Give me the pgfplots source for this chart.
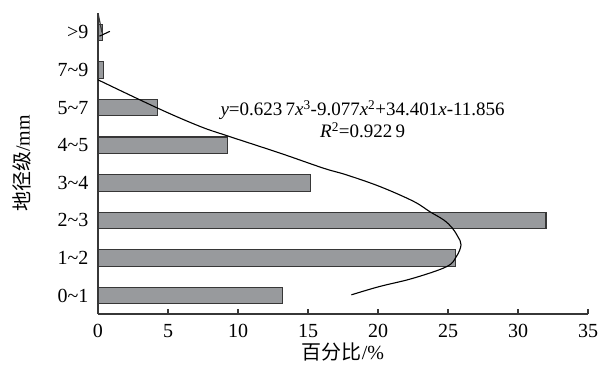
\documentclass[border=0pt]{standalone}
\usepackage{pgfplots}
\pgfplotsset{compat=1.18}
\usepackage{fontspec}
\setmainfont{Liberation Serif}
\newfontfamily\cjk{Noto Sans CJK SC}
\definecolor{barfill}{RGB}{152,154,157}
\definecolor{bardraw}{RGB}{55,55,55}
\begin{document}
\begin{tikzpicture}
\begin{axis}[
  scale only axis, width=490pt, height=300.7pt,
  xmin=0, xmax=35, ymin=0.51, ymax=8.51,
  axis lines=left, axis line style={-, draw=bardraw, line width=1.2pt},
  xtick={0,5,...,35}, xtick align=inside, major tick length=5pt,
  ytick={1,...,8},
  yticklabels={0\textasciitilde1,1\textasciitilde2,2\textasciitilde3,3\textasciitilde4,4\textasciitilde5,5\textasciitilde7,7\textasciitilde9,>9},
  ytick style={draw=none},
  xtick style={draw=bardraw, line width=1.2pt},
  ticklabel style={font=\fontsize{20}{24}\selectfont},
  xticklabel style={yshift=-7pt},
  yticklabel style={xshift=-3.5pt},
  /pgf/number format/assume math mode=true,
  xlabel={{\cjk 百分比}/\%},
  ylabel={{\cjk 地径级}/mm},
  every axis x label/.style={at={(rel axis cs:0.5,0)}, anchor=center, yshift=-38pt},
  every axis y label/.style={at={(rel axis cs:0,0.5)}, rotate=90, anchor=center, yshift=76pt},
  label style={font=\fontsize{20}{24}\selectfont},
  clip=false,
]
\addplot[xbar, bar width=16.5pt, fill=barfill, draw=bardraw, line width=1.1pt] coordinates {
  (13.2,1) (25.55,2) (32.0,3) (15.2,4) (9.24,5) (4.26,6) (0.38,7) (0.33,8)
};
\addplot[black, line width=1.1pt, smooth, tension=0.6] coordinates {
  (18.1,1.02) (20.1,1.24) (22.5,1.46) (24.9,1.77) (25.6,2.04) (25.93,2.35) (25.7,2.57) (25.3,2.80) (24.7,3.01) (23.71,3.23) (22.52,3.51) (20.14,3.90) (17.76,4.21) (16.1,4.39) (13.0,4.79) (9.24,5.25) (7.29,5.5) (4.3,5.98) (0,6.74)
};
\addplot[black, line width=1.1pt] coordinates {(0.1,7.9) (0.85,8.03)};
\draw[bardraw, line width=1.2pt] (axis cs:0,8.51) -- ++(4pt,0);
\node[align=center, font=\fontsize{19}{22}\selectfont] at (axis cs:18.9,5.70)
  {\textit{y}=0.623\,7\textit{x}\textsuperscript{3}-9.077\textit{x}\textsuperscript{2}+34.401\textit{x}-11.856\\ \textit{R}\textsuperscript{2}=0.922\,9};
\path (rel axis cs:0,0) ++(-98pt,-62pt) coordinate (bbA);
\path (rel axis cs:1,1) ++(19pt,13.3pt) coordinate (bbB);
\end{axis}
\useasboundingbox (bbA) rectangle (bbB);
\end{tikzpicture}
\end{document}
